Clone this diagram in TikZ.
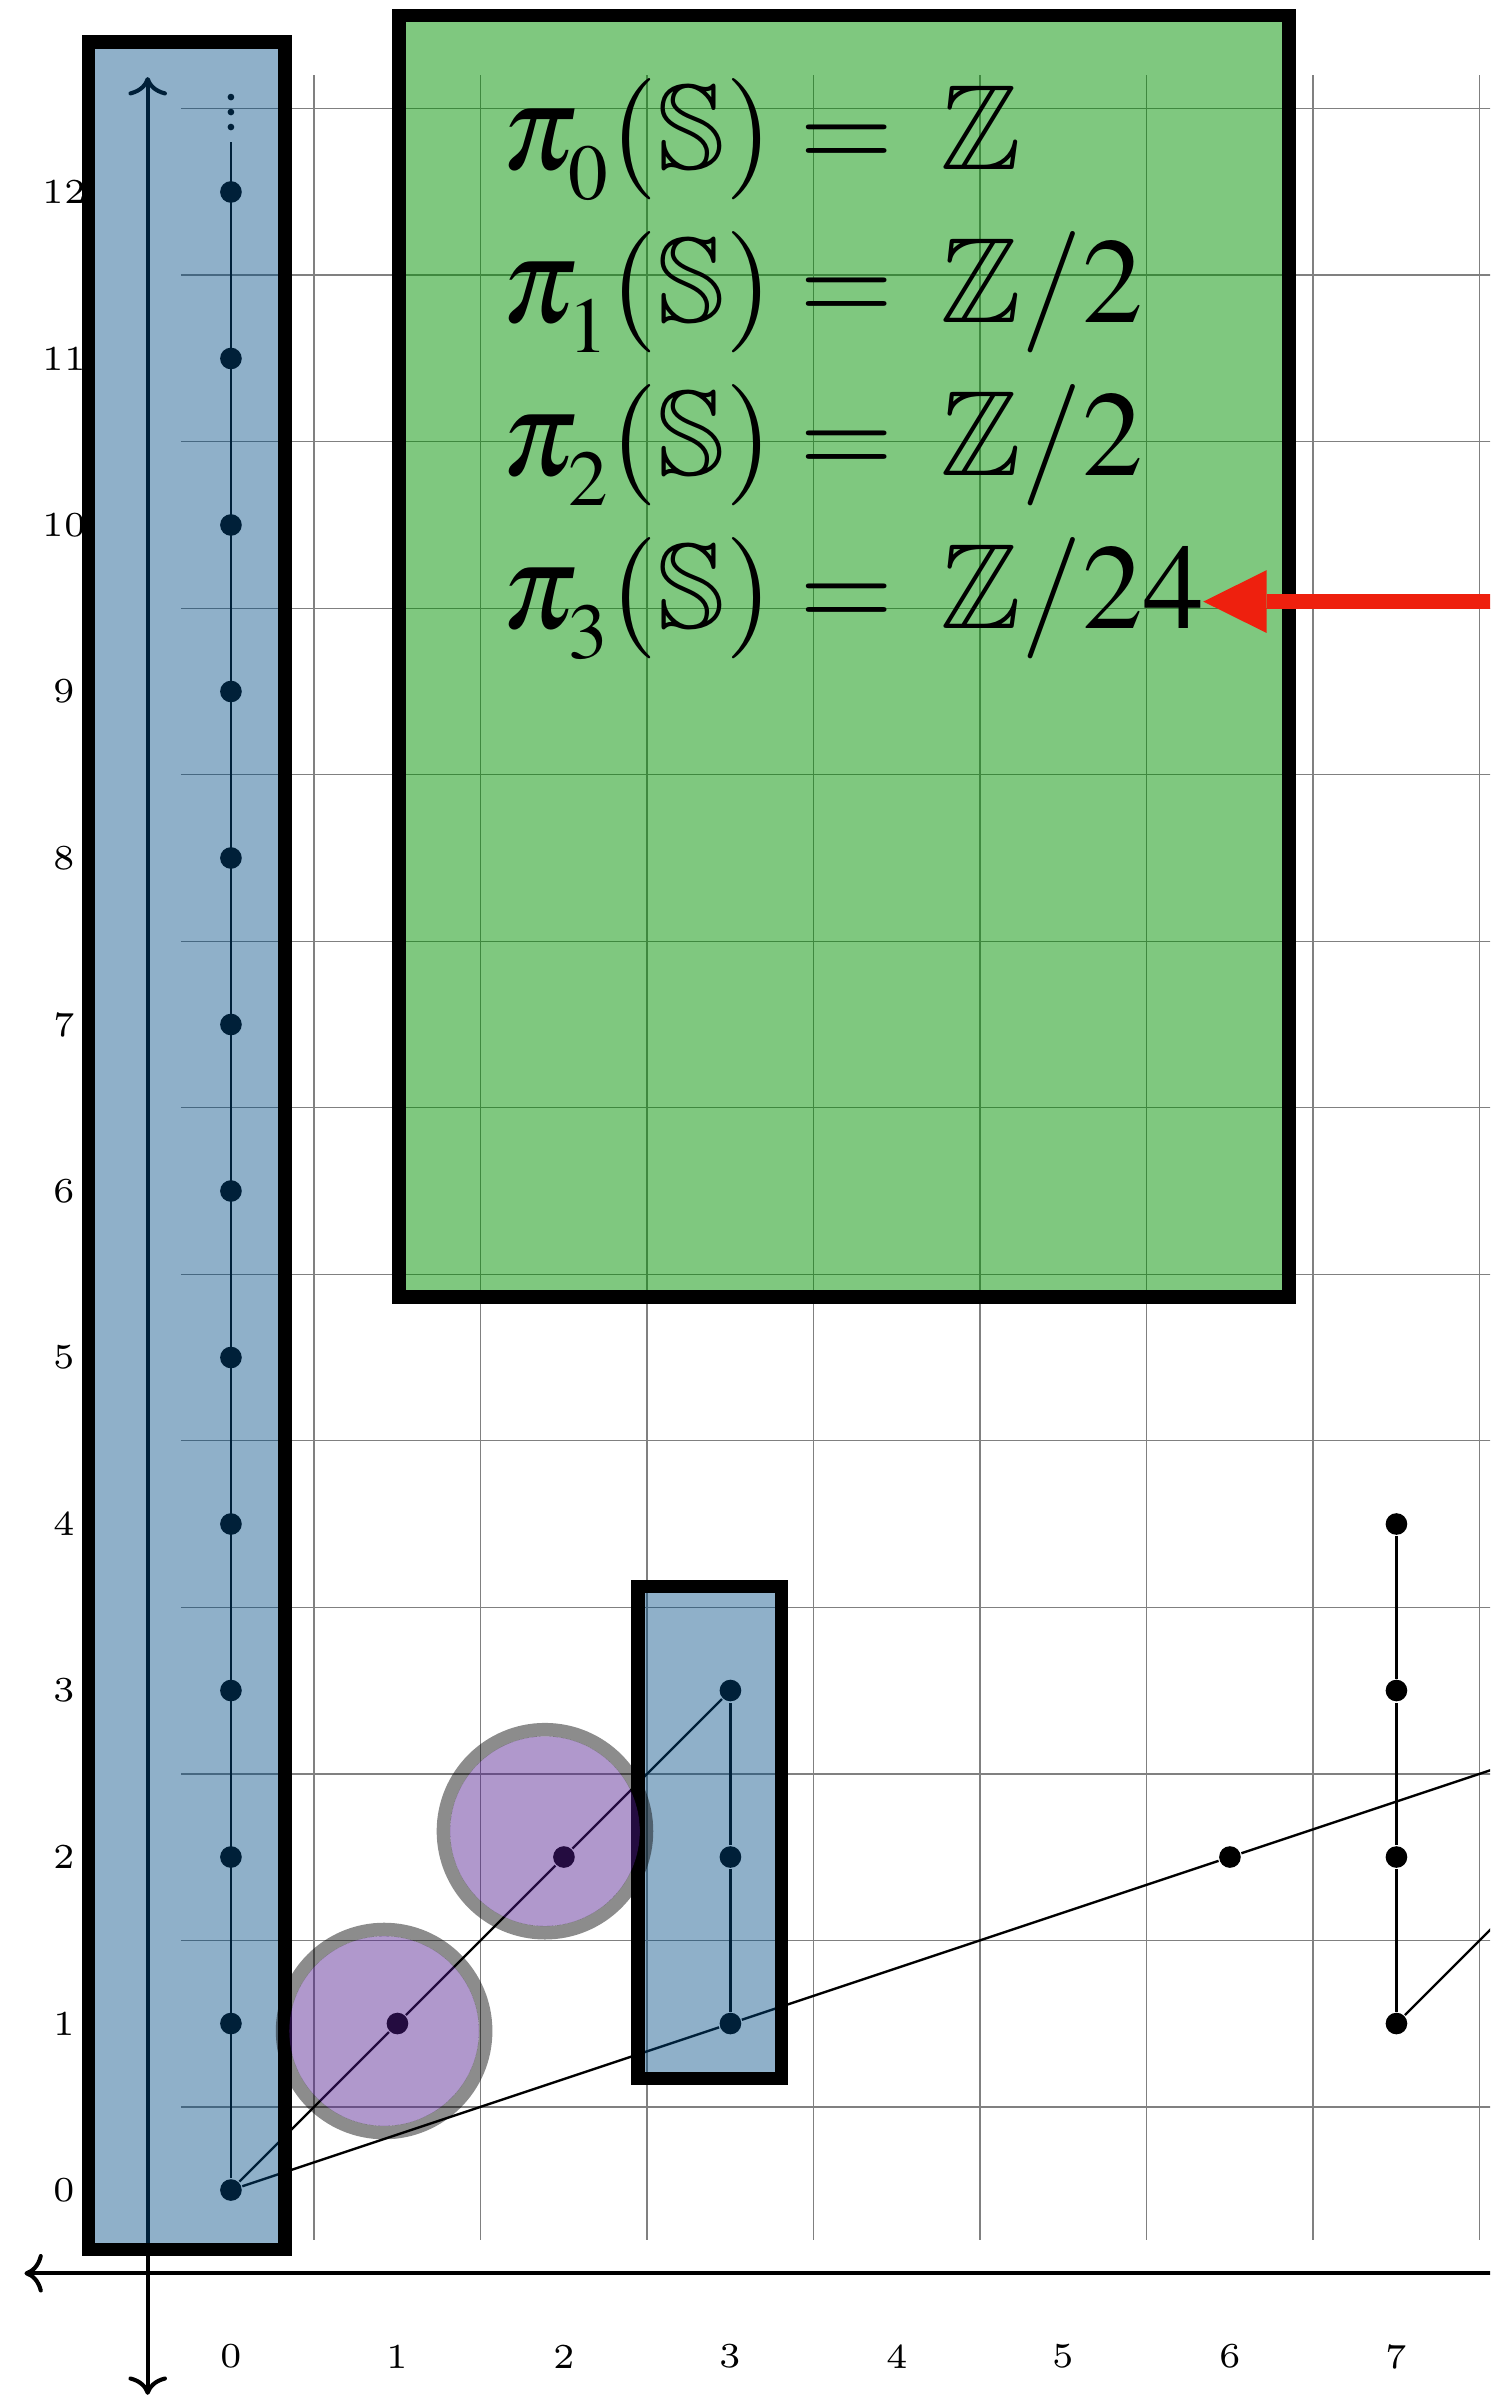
\documentclass[tikz,border=0pt]{standalone}
\usepackage{amssymb}
\usepackage{mathptmx}
\renewcommand{\rmdefault}{lmr}
\usetikzlibrary{arrows.meta}
\definecolor{boxblue}{RGB}{0,75,132}
\definecolor{boxgreen}{RGB}{0,145,0}
\definecolor{ringpurple}{RGB}{80,27,142}
\definecolor{arrowred}{RGB}{238,32,14}
\newcommand{\stemgroup}[2]{$\pi_{\lower2pt\hbox{\fontsize{13.5}{15}\selectfont$#1$}}(\mathbb{S}) = \mkern3mu\mathbb{Z}#2$}
\tikzset{
  adamsdot/.style={circle,fill=black,inner sep=0pt,minimum size=0.13cm},
  ticklabel/.style={font=\fontsize{6}{7}\selectfont},
  gridline/.style={gray,line width=0.25pt},
  bluebox/.style={fill=boxblue,fill opacity=0.44,draw=black,line width=2.3pt},
  grouplabel/.style={anchor=base west,inner sep=0pt,font=\huge}
}
\begin{document}
\begin{tikzpicture}
    \useasboundingbox (-1.387,-1.255) rectangle (7.562,13.153);
    \clip (-1.387,-1.255) rectangle (7.562,13.153);
    % grid
    \foreach \x in {0,...,7}
    \draw[gridline] (\x+0.5,-0.3) -- (\x+0.5,12.7);
    \foreach \y in {0,...,12}
    \draw[gridline] (-0.3,\y+0.5) -- (8,\y+0.5);
    
    % axes
    \draw[<->,line width=0.7pt] (-0.5,-1.23) -- (-0.5,12.69);
    \draw[<->,line width=0.7pt] (-1.24,-0.5) -- (8,-0.5);
    
    % labels on the axes
    \foreach \x in {0,...,7}
    \node[ticklabel] (xl\x) at (\x,-1) {\x};
    \foreach \y in {0,...,12}
    \node[ticklabel] (yl\y) at (-1,\y) {\y};
    
    % dots
    \foreach \y in {0,...,12}
    \node[adamsdot] (d0-\y) at (0,\y) {};
    \node[adamsdot] (d1-1) at (1,1) {};
    \node[adamsdot] (d2-2) at (2,2) {};
    \foreach \y in {1,2,3}
    \node[adamsdot] (d3-\y) at (3,\y) {};
    \node[adamsdot] (d6-2) at (6,2) {};
    \foreach \y in {1,...,4}
    \node[adamsdot] (d7-\y) at (7,\y) {};
    \coordinate (top0) at (0,12.3);
    \coordinate (far9) at (9,3);
    \coordinate (far8) at (8,2);
    \foreach \y in {12.39,12.48,12.57}
    \fill (0,\y) circle (0.02);
    
    % lines between dots
    \draw (d0-0) -- (top0);
    \draw (d0-0) -- (d1-1) -- (d2-2) -- (d3-3);
    \draw (d0-0) -- (d3-1) -- (d6-2) -- (far9);
    \draw (d3-1) -- (d3-2) -- (d3-3);
    \draw (d7-1) -- (d7-2) -- (d7-3) -- (d7-4);
    \draw (d7-1) -- (far8);
    
    % blue boxes
    \draw[bluebox] (-0.855,-0.356) rectangle (0.326,12.9);
    \draw[bluebox] (2.444,0.67) rectangle (3.307,3.626);
    
    % purple rings
    \foreach \cx/\cy in {0.92/0.955,1.886/2.155} {
      \fill[ringpurple,fill opacity=0.45] (\cx,\cy) circle (0.57);
      \draw[black,draw opacity=0.45,line width=2.3pt] (\cx,\cy) circle (0.61);
    }
    
    % green box with the groups
    \draw[fill=boxgreen,fill opacity=0.5,draw=black,line width=2.3pt] (1.008,5.363) rectangle (6.355,13.06);
    \node[grouplabel] (pi0) at (1.62,12.132) {\stemgroup{0}{}};
    \node[grouplabel] (pi1) at (1.62,11.214) {\stemgroup{1}{/2}};
    \node[grouplabel] (pi2) at (1.62,10.297) {\stemgroup{2}{/2}};
    \node[grouplabel] (pi3) at (1.62,9.379) {\stemgroup{3}{/24}};
    
    % red arrow
    \coordinate (arrowtail) at (8,9.54);
    \coordinate (arrowtip) at (5.84,9.54);
    \draw[-{Triangle[length=0.38cm,width=0.377cm,line width=0pt]},arrowred,line width=2.5pt] (arrowtail) -- (arrowtip);
\end{tikzpicture}
\end{document}
